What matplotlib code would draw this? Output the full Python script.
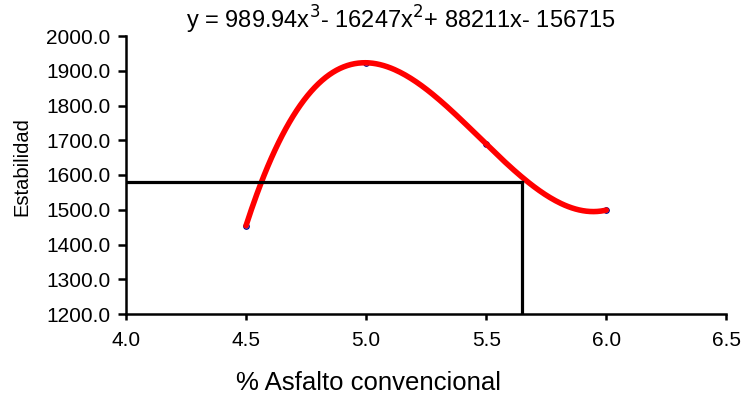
import numpy as np
import matplotlib.pyplot as plt

plt.rcParams['font.family'] = ['Liberation Sans', 'DejaVu Sans']

# Stability test results
asfalto = [4.5, 5.0, 5.5, 6.0]
estabilidad = [1454, 1923, 1689, 1499]

# Design asphalt content
x_diseno = 5.65
y_diseno = 1580

ecuacion = 'y = 989.94x$^{3}$- 16247x$^{2}$+ 88211x- 156715'

# Third order polynomial trendline
coef = np.polyfit(asfalto, estabilidad, 3)
xs = np.linspace(min(asfalto), max(asfalto), 200)
ys = np.polyval(coef, xs)

fig = plt.figure(figsize=(7.45, 4.0), dpi=100)
ax = fig.add_axes([0.169, 0.215, 0.806, 0.695])

ax.plot(asfalto, estabilidad, 'o', ms=4, mfc='#6f6fff', mec='#000080', mew=0.8, zorder=2)
ax.plot(xs, ys, color='red', lw=4, solid_capstyle='round', zorder=3)

ax.plot([4.0, x_diseno], [y_diseno, y_diseno], color='black', lw=2.3, zorder=4)
ax.plot([x_diseno, x_diseno], [1200, y_diseno], color='black', lw=2.3, zorder=4)

ax.set_xlim(4.0, 6.5)
ax.set_ylim(1200, 2000)
ax.set_xticks(np.arange(4.0, 6.51, 0.5))
ax.set_yticks(np.arange(1200, 2001, 100))
ax.xaxis.set_major_formatter(plt.FormatStrFormatter('%.1f'))
ax.yaxis.set_major_formatter(plt.FormatStrFormatter('%.1f'))

for s in ['top', 'right']:
    ax.spines[s].set_visible(False)
for s in ['left', 'bottom']:
    ax.spines[s].set_linewidth(1.8)
ax.tick_params(direction='out', width=1.8, labelsize=15)
ax.tick_params(axis='y', length=6, pad=5)
ax.tick_params(axis='x', length=4, pad=8)

fig.text(0.495, 0.043, '% Asfalto convencional', fontsize=18.5, ha='center', va='center')
fig.text(0.030, 0.584, 'Estabilidad', fontsize=14.5, rotation=90, ha='center', va='center')
fig.text(0.538, 0.95, ecuacion, fontsize=17, ha='center', va='center')

fig.savefig('out.png', dpi=100)
